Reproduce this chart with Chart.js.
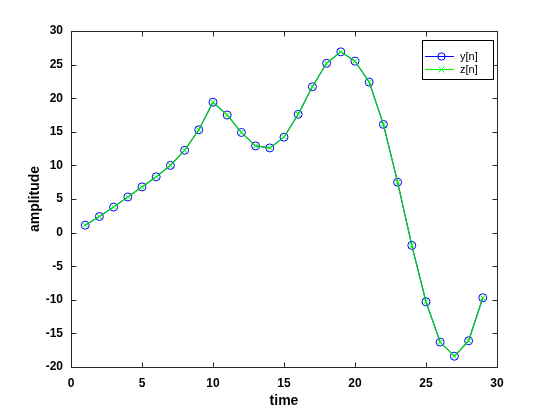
<!DOCTYPE html>
<html><head><meta charset="utf-8">
<script src="https://cdn.jsdelivr.net/npm/chart.js@4/dist/chart.umd.min.js"></script>
<style>html,body{margin:0;padding:0;background:#fff;}canvas{display:block;}</style>
</head><body>
<canvas id="c" width="550" height="412"></canvas>
<script>
const timeSteps = [1,2,3,4,5,6,7,8,9,10,11,12,13,14,15,16,17,18,19,20,21,22,23,24,25,26,27,28,29];
const yValues = [1.1,2.4,3.8,5.3,6.8,8.3,10.0,12.25,15.3,19.4,17.5,14.9,12.9,12.6,14.2,17.6,21.7,25.2,26.9,25.5,22.4,16.1,7.5,-1.9,-10.3,-16.3,-18.4,-16.1,-9.7];
const zValues = [1.1,2.4,3.8,5.3,6.8,8.3,10.0,12.25,15.3,19.4,17.5,14.9,12.9,12.6,14.2,17.6,21.7,25.2,26.9,25.5,22.4,16.1,7.5,-1.9,-10.3,-16.3,-18.4,-16.1,-9.7];
const xTicks = [0,5,10,15,20,25,30];
const yTicks = [-20,-15,-10,-5,0,5,10,15,20,25,30];
const seriesNames = ['y[n]','z[n]'];
const xTitle = 'time';
const yTitle = 'amplitude';

const FONT = "'Liberation Sans', Arial, sans-serif";
const toPts = (xs, ys) => xs.map((x, i) => ({x: x, y: ys[i]}));

const framePlugin = {
  id: 'frame',
  afterDraw(chart) {
    const ctx = chart.ctx, a = chart.chartArea, sx = chart.scales.x, sy = chart.scales.y;
    ctx.save();
    ctx.strokeStyle = '#262626';
    ctx.lineWidth = 1;
    const L = Math.round(a.left) + 0.5, R = Math.round(a.right) + 0.5,
          T = Math.round(a.top) + 0.5, B = Math.round(a.bottom) + 0.5;
    ctx.strokeRect(L, T, R - L, B - T);
    ctx.beginPath();
    xTicks.forEach(v => {
      const p = Math.round(sx.getPixelForValue(v)) + 0.5;
      ctx.moveTo(p, B); ctx.lineTo(p, B - 5);
      ctx.moveTo(p, T); ctx.lineTo(p, T + 5);
    });
    yTicks.forEach(v => {
      const p = Math.round(sy.getPixelForValue(v)) + 0.5;
      ctx.moveTo(L, p); ctx.lineTo(L + 5, p);
      ctx.moveTo(R, p); ctx.lineTo(R - 5, p);
    });
    ctx.stroke();
    // legend
    const bx = 422.5, by = 40.5, bw = 71, bh = 39;
    ctx.fillStyle = '#fff';
    ctx.fillRect(bx, by, bw, bh);
    ctx.strokeStyle = '#000';
    ctx.strokeRect(bx, by, bw, bh);
    const rows = [
      {name: seriesNames[0], color: '#0000ff', marker: 'circle', y: 56.5},
      {name: seriesNames[1], color: '#00ff00', marker: 'cross', y: 69.5}
    ];
    rows.forEach(r => {
      ctx.strokeStyle = r.color;
      ctx.beginPath();
      ctx.moveTo(425, r.y); ctx.lineTo(454, r.y);
      ctx.stroke();
      ctx.beginPath();
      if (r.marker === 'circle') {
        ctx.arc(441.5, r.y, 3.7, 0, Math.PI * 2);
      } else {
        ctx.moveTo(438.5, r.y - 3); ctx.lineTo(444.5, r.y + 3);
        ctx.moveTo(444.5, r.y - 3); ctx.lineTo(438.5, r.y + 3);
      }
      ctx.stroke();
      ctx.fillStyle = '#000';
      ctx.font = '11px ' + FONT;
      ctx.textBaseline = 'middle';
      ctx.textAlign = 'left';
      ctx.fillText(r.name, 460, r.y);
    });
    ctx.restore();
  }
};

new Chart(document.getElementById('c'), {
  type: 'scatter',
  data: {
    datasets: [
      {
        label: seriesNames[0],
        data: toPts(timeSteps, yValues),
        showLine: true,
        borderColor: '#0000ff',
        backgroundColor: 'rgba(0,0,0,0)',
        borderWidth: 1,
        pointStyle: 'circle',
        pointRadius: 4,
        pointBorderWidth: 1,
        pointBorderColor: '#0000ff',
        pointBackgroundColor: 'rgba(0,0,0,0)',
        tension: 0,
        order: 1
      },
      {
        label: seriesNames[1],
        data: toPts(timeSteps, zValues),
        showLine: true,
        borderColor: '#00cc22',
        backgroundColor: 'rgba(0,0,0,0)',
        borderWidth: 1.3,
        pointStyle: 'crossRot',
        pointRadius: 3.5,
        pointBorderWidth: 1,
        pointBorderColor: '#00ff00',
        tension: 0,
        order: 0
      }
    ]
  },
  options: {
    responsive: false,
    animation: false,
    layout: {padding: {left: 0, top: 31, right: 53, bottom: 0}},
    plugins: {legend: {display: false}, tooltip: {enabled: false}},
    scales: {
      x: {
        type: 'linear', min: 0, max: 30,
        afterFit: s => { s.height = 45; },
        afterBuildTicks: s => { s.ticks = xTicks.map(v => ({value: v})); },
        grid: {drawOnChartArea: false, drawTicks: false},
        border: {display: false},
        ticks: {padding: 9, color: '#000', font: {family: FONT, size: 12, weight: 'bold'}, maxRotation: 0},
        title: {display: true, text: xTitle, color: '#000', font: {family: FONT, size: 14, weight: 'bold'}, padding: {top: 0, bottom: 2}}
      },
      y: {
        type: 'linear', min: -20, max: 30,
        afterFit: s => { s.width = 71; },
        afterBuildTicks: s => { s.ticks = yTicks.map(v => ({value: v})); },
        grid: {drawOnChartArea: false, drawTicks: false},
        border: {display: false},
        ticks: {padding: 8, color: '#000', font: {family: FONT, size: 12, weight: 'bold'}},
        title: {display: true, text: yTitle, color: '#000', font: {family: FONT, size: 14, weight: 'bold'}, padding: {top: 27, bottom: 0}}
      }
    }
  },
  plugins: [framePlugin]
});
</script>
</body></html>
